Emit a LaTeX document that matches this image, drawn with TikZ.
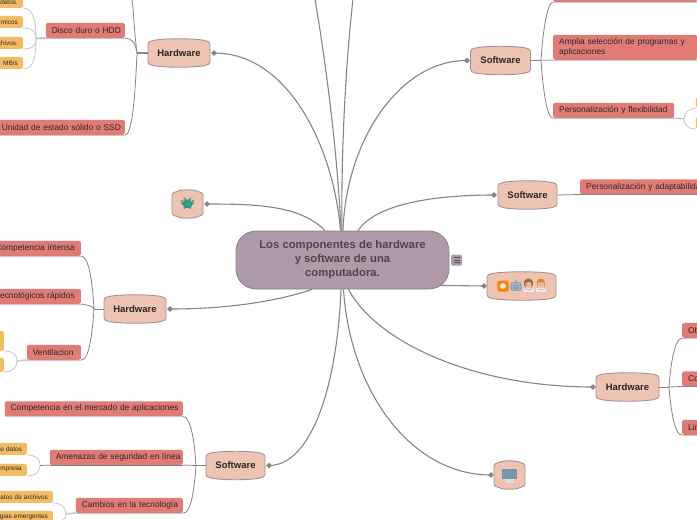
\documentclass[tikz,border=0pt]{standalone}
\usepackage{fontspec}
\setmainfont{Liberation Sans}
\newfontfamily\emojifont{Noto Emoji}
\usetikzlibrary{shapes.geometric,calc}
\definecolor{conn}{HTML}{8C8383}
\definecolor{lconn}{HTML}{C9C6C6}
\definecolor{mainfill}{HTML}{AE9AAB}
\definecolor{barfill}{HTML}{EFC3B1}
\definecolor{barline}{HTML}{A09595}
\definecolor{redfill}{HTML}{E07C75}
\definecolor{yelfill}{HTML}{F2BC63}
\definecolor{ink}{HTML}{2B2728}
\tikzset{
 x=1pt,y=-1pt,
 link/.style={draw=conn,line width=1.1pt},
 thick link/.style={draw=conn,line width=1.6pt},
 branch/.style={draw=conn,line width=.8pt},
 under/.style={draw=lconn,line width=1pt},
 leaf/.style={draw=lconn,line width=.8pt},
 dot/.style={diamond,fill=conn,inner sep=0pt,minimum width=6pt,minimum height=6pt},
 barrelbody/.style={fill=barfill,draw=barline,line width=.9pt},
 barreltext/.style={inner sep=0pt,font=\fontsize{9.5}{11}\selectfont\bfseries,text=ink,minimum height=20pt},
 redbox/.style={fill=redfill,rounded corners=1.5pt,inner xsep=6pt,inner ysep=0pt,minimum height=15pt,font=\fontsize{8.4}{10}\selectfont,text=ink},
 yelbox/.style={fill=yelfill,rounded corners=1.5pt,inner xsep=5pt,inner ysep=0pt,minimum height=12pt,align=right,font=\fontsize{6.4}{8}\selectfont,text=ink},
 mainbox/.style={fill=mainfill,draw=conn,line width=.8pt,rounded corners=20pt,minimum width=213pt,minimum height=58pt,inner sep=0pt,align=center,font=\fontsize{11.3}{14}\selectfont\bfseries,text=ink!85},
 emo/.style={inner sep=0pt,font=\emojifont\fontsize{11}{11}\selectfont},
}
\newcommand\barrelnode[5]{%
 \path[barrelbody] ({#2-#4/2},{#3-9}) -- ({#2-#4/2},{#3+9})
  .. controls ({#2-#4/2},{#3+11}) and ({#2-#4/2+2},{#3+12}) .. ({#2-#4/2+5},{#3+12.5})
  .. controls ({#2-#4/4},{#3+14.8}) and ({#2+#4/4},{#3+14.8}) .. ({#2+#4/2-5},{#3+12.5})
  .. controls ({#2+#4/2-2},{#3+12}) and ({#2+#4/2},{#3+11}) .. ({#2+#4/2},{#3+9})
  -- ({#2+#4/2},{#3-9})
  .. controls ({#2+#4/2},{#3-11}) and ({#2+#4/2-2},{#3-12}) .. ({#2+#4/2-5},{#3-12.5})
  .. controls ({#2+#4/4},{#3-14.8}) and ({#2-#4/4},{#3-14.8}) .. ({#2-#4/2+5},{#3-12.5})
  .. controls ({#2-#4/2+2},{#3-12}) and ({#2-#4/2},{#3-11}) .. cycle;
 \node[barreltext,minimum width=#4 pt] (#1) at (#2,#3) {#5};}
\begin{document}
\begin{tikzpicture}
\useasboundingbox (0,0) rectangle (697,520);
\fill[white] (0,0) rectangle (697,520);

% central node
\node[mainbox] (main) at (342.5,260) {Los componentes de hardware\\y software de una\\computadora.};
\node[fill=mainfill,rounded corners=1.5pt,minimum width=11pt,minimum height=11pt,inner sep=0pt] (menu) at (456.5,260) {};
\draw[ink!80,line width=.7pt] ([shift={(-3,-2.5)}]menu.center) -- ([shift={(3,-2.5)}]menu.center)
  ([shift={(-3,0)}]menu.center) -- ([shift={(3,0)}]menu.center)
  ([shift={(-3,2.5)}]menu.center) -- ([shift={(3,2.5)}]menu.center);

% first-level nodes
\barrelnode{hwa}{179}{53}{62}{Hardware}
\barrelnode{hwb}{135}{309}{62}{Hardware}
\barrelnode{hwc}{627.5}{387}{63}{Hardware}
\barrelnode{swa}{500.5}{60.5}{60}{Software}
\barrelnode{swb}{527.5}{195}{59}{Software}
\barrelnode{swc}{235.5}{465.5}{59}{Software}
\barrelnode{emb}{187.5}{204}{31}{}
\barrelnode{emc}{509.5}{475}{31}{}
\barrelnode{emd}{521.5}{286}{69}{}

% emoji
\fill[teal!80!green!80!white] (187.5,204) ellipse (5pt and 4pt);
\node[emo,text=teal!90!black] (alien) at (187.5,204) {👾};
\fill[black!55!cyan!70!white] (502,468.5) rectangle (517,479);
\fill[white!75!gray] (505,479) rectangle (514,483);
\node[fill=orange,rounded corners=1.5pt,minimum width=11pt,minimum height=11pt,inner sep=0pt] (tile) at (503,286) {};
\fill[white!85!orange] (tile.center) circle (3pt);
\fill[cyan!30!gray!70!white] (511,282) rectangle (521,291);
\node[emo,text=cyan!40!black!70] (robot) at (516,286) {🤖};
\fill[gray!15] (523.5,288) rectangle (533.5,292);
\node[emo,text=brown!80!black] (woman) at (528.5,284.5) {👩};
\fill[gray!15] (536,288) rectangle (546,292);
\node[emo,text=orange!60!brown] (man) at (541,284.5) {👨};

% diamonds
\node[dot] (da) at (214,53) {};
\node[dot] (db) at (170,309) {};
\node[dot] (dc) at (593,387) {};
\node[dot] (dd) at (467,60.5) {};
\node[dot] (de) at (494,195) {};
\node[dot] (df) at (269,465.5) {};
\node[dot] (dg) at (207,204) {};
\node[dot] (dh) at (491,475) {};
\node[dot] (di) at (484,286) {};

% free ends
\coordinate (topa) at (315,-1);
\coordinate (topb) at (353,-1);

% connectors from the centre
\draw[link] ([xshift=-2pt]main.north) .. controls (334,150) and (290,53) .. (da.center);
\draw[link] ([xshift=-1.5pt]main.north) .. controls (338,160) and (327,70) .. (topa);
\draw[link] ([xshift=-.5pt]main.north) .. controls (341,160) and (345,70) .. (topb);
\draw[link] ([xshift=.5pt]main.north) .. controls (346,140) and (400,60) .. (dd.center);
\draw[link] ([xshift=15.5pt]main.north) .. controls (375,205) and (430,195) .. (de.center);
\draw[link] ([xshift=-17.5pt]main.north) .. controls (300,205) and (255,204) .. (dg.center);
\draw[link] ([xshift=-30.5pt]main.south) .. controls (275,302) and (225,309) .. (db.center);
\draw[link] ([xshift=-1.5pt]main.south) .. controls (337,390) and (310,465.5) .. (df.center);
\draw[link] ([xshift=1pt]main.south) .. controls (350,390) and (410,475) .. (dh.center);
\draw[link] ([xshift=6pt]main.south) .. controls (375,340) and (470,387) .. (dc.center);
\draw[link] ([shift={(-10,-4)}]main.south east) -- (di.center);

% Hardware (top left)
\node[redbox,text width=67pt,anchor=south east] (disco) at (125,38) {\mbox{Disco duro o HDD}};
\node[redbox,text width=117pt,anchor=south east] (ssd) at (125,135) {\mbox{Unidad de estado sólido o SSD}};
\coordinate (hajoin) at (137,53);
\draw[thick link] (hwa.west) -- (hajoin);
\draw[branch] (hajoin) .. controls (135,40) and (130,38.5) .. (disco.south east);
\draw[branch] (hajoin) .. controls (134,30) and (134,15) .. (132,-1);
\draw[branch] (hajoin) .. controls (135,100) and (132,135) .. (ssd.south east);
\draw[under] (disco.south east) -- (disco.south west);
\draw[under] (ssd.south east) -- (ssd.south west);
\node[yelbox,text width=30pt,anchor=south east] (ya) at (23,8) {datos.};
\node[yelbox,text width=30pt,anchor=south east] (yb) at (23,28) {micos};
\node[yelbox,text width=30pt,anchor=south east] (yc) at (23,49) {chivos.};
\node[yelbox,text width=30pt,anchor=south east] (yd) at (23,69) {MB/s};
\coordinate (hdjoin) at (36,38.5);
\draw[thick link,draw=lconn!80!conn] (disco.south west) -- (hdjoin);
\draw[leaf] (hdjoin) .. controls (36,20) and (33,8) .. (ya.south east);
\draw[leaf] (hdjoin) .. controls (36,32) and (33,28) .. (yb.south east);
\draw[leaf] (hdjoin) .. controls (36,45) and (33,49) .. (yc.south east);
\draw[leaf] (hdjoin) .. controls (36,58) and (33,69) .. (yd.south east);

% Hardware (middle left)
\node[redbox,text width=95pt,align=right,anchor=south east] (comp) at (81,256) {\mbox{Competencia intensa}};
\node[redbox,text width=95pt,align=right,anchor=south east] (tec) at (81,304) {\mbox{tecnológicos rápidos}};
\node[redbox,text width=42pt,anchor=south east] (vent) at (81,360) {\mbox{Ventilacion}};
\coordinate (hbjoin) at (94,309);
\draw[branch] (hwb.west) -- (hbjoin);
\draw[branch] (hbjoin) .. controls (92,275) and (88,256.5) .. (comp.south east);
\draw[branch] (hbjoin) .. controls (92,306) and (88,305) .. (tec.south east);
\draw[branch] (hbjoin) .. controls (92,340) and (88,361) .. (vent.south east);
\draw[under] (comp.south east) -- (comp.south west);
\draw[under] (tec.south east) -- (tec.south west);
\draw[under] (vent.south east) -- (vent.south west);
\node[yelbox,minimum width=30pt,minimum height=20pt,anchor=south east] (ye) at (4,351) {};
\node[yelbox,minimum width=30pt,minimum height=14pt,anchor=south east] (yf) at (4,372) {};
\coordinate (vjoin) at (17,361);
\draw[thick link,draw=lconn] (vent.south west) -- (vjoin);
\draw[leaf] (vjoin) .. controls (17,354) and (12,351) .. (ye.south east);
\draw[leaf] (vjoin) .. controls (17,368) and (12,372) .. (yf.south east);

% Software (bottom left)
\node[redbox,text width=166pt,anchor=south east] (merc) at (183,416.5) {\mbox{Competencia en el mercado de aplicaciones}};
\node[redbox,text width=121pt,anchor=south east] (amen) at (183,465) {\mbox{Amenazas de seguridad en línea}};
\node[redbox,text width=95pt,anchor=south east] (camb) at (183,513) {\mbox{Cambios en la tecnología}};
\coordinate (scjoin) at (196,465.5);
\draw[branch] (swc.west) -- (scjoin);
\draw[branch] (scjoin) .. controls (194,435) and (190,417) .. (merc.south east);
\draw[branch] (scjoin) -- (amen.south east);
\draw[branch] (scjoin) .. controls (194,495) and (190,514) .. (camb.south east);
\draw[under] (merc.south east) -- (merc.south west);
\draw[branch] (amen.south east) -- (amen.south west);
\draw[under] (camb.south east) -- (camb.south west);
\node[yelbox,text width=30pt,anchor=south east] (yg) at (27,455) {de datos};
\node[yelbox,text width=30pt,anchor=south east] (yh) at (27,476) {empresa};
\node[yelbox,text width=65pt,anchor=south east] (yi) at (53,503) {matos de archivos};
\node[yelbox,text width=65pt,anchor=south east] (yj) at (53,523) {logías emergentes};
\coordinate (ajoin) at (40,465.5);
\draw[branch] (amen.south west) -- (ajoin);
\draw[leaf] (ajoin) .. controls (40,458) and (35,455) .. (yg.south east);
\draw[leaf] (ajoin) .. controls (40,472) and (35,476) .. (yh.south east);
\coordinate (cjoin) at (66,514);
\draw[thick link,draw=lconn] (camb.south west) -- (cjoin);
\draw[leaf] (cjoin) .. controls (66,507) and (61,503) .. (yi.south east);
\draw[leaf] (cjoin) .. controls (66,520) and (61,523) .. (yj.south east);

% Software (top right)
\node[redbox,text width=132pt,anchor=south west] (ra) at (553,2) {};
\node[redbox,text width=132pt,minimum height=25pt,anchor=south west] (rb) at (553,60) {\mbox{Amplia selección de programas y}\\\mbox{aplicaciones}};
\node[redbox,text width=109pt,anchor=south west] (rc) at (553,118) {\mbox{Personalización y flexibilidad}};
\coordinate (sajoin) at (541,60.5);
\draw[thick link] (swa.east) -- (sajoin);
\draw[branch] (sajoin) .. controls (543,30) and (547,3) .. (ra.south west);
\draw[thick link,draw=lconn!80!conn,line width=1.2pt] (sajoin) -- (rb.south west);
\draw[branch] (sajoin) .. controls (543,90) and (547,119) .. (rc.south west);
\draw[under] (ra.south west) -- (ra.south east);
\draw[under] (rb.south west) -- (rb.south east);
\draw[under] (rc.south west) -- (rc.south east);
\node[yelbox,minimum width=20pt,minimum height=11pt,anchor=south west] (yk) at (696,108) {};
\node[yelbox,minimum width=20pt,minimum height=12pt,anchor=south west] (yl) at (696,129) {};
\coordinate (rjoin) at (684,119);
\draw[branch,draw=conn!70!white] (rc.south east) -- (rjoin);
\draw[leaf] (rjoin) .. controls (684,112) and (689,109) .. (yk.south west);
\draw[leaf] (rjoin) .. controls (684,126) and (689,129) .. (yl.south west);

% Software (middle right)
\node[redbox,text width=116pt,anchor=south west] (adap) at (580,194.5) {\mbox{Personalización y adaptabilidad}};
\draw[branch] (swb.east) -- (adap.south west);
\draw[branch] (adap.south west) -- (adap.south east);

% Hardware (bottom right)
\node[redbox,text width=30pt,anchor=south west] (oa) at (682,338) {\mbox{Ob}};
\node[redbox,text width=30pt,anchor=south west] (ob) at (682,386.5) {\mbox{Co}};
\node[redbox,text width=30pt,anchor=south west] (oc) at (682,435) {\mbox{Lin}};
\coordinate (hcjoin) at (669,387);
\draw[branch] (hwc.east) -- (hcjoin);
\draw[branch] (hcjoin) .. controls (671,360) and (675,339) .. (oa.south west);
\draw[branch] (hcjoin) -- (ob.south west);
\draw[branch] (hcjoin) .. controls (671,412) and (675,436) .. (oc.south west);
\draw[under] (oa.south west) -- (oa.south east);
\draw[branch] (ob.south west) -- (ob.south east);
\draw[under] (oc.south west) -- (oc.south east);
\end{tikzpicture}
\end{document}
